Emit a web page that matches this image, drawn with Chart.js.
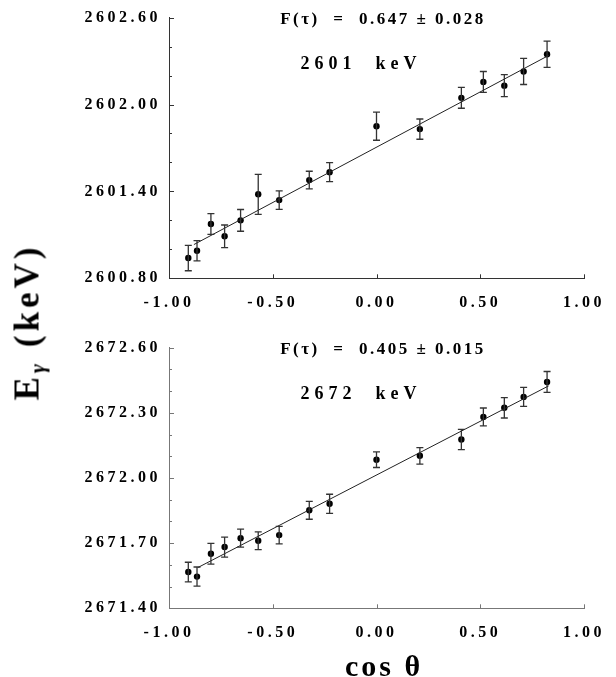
<!DOCTYPE html>
<html>
<head>
<meta charset="utf-8">
<script src="https://cdn.jsdelivr.net/npm/chart.js@4"></script>
<style>
body{margin:0;background:#fff;}
#wrap{position:relative;width:616px;height:677px;overflow:hidden;}
canvas{position:absolute;left:0;}
#c1{top:0;}
#c2{top:330px;}
.ylab{position:absolute;left:29px;top:322px;transform:translate(-50%,-50%) rotate(-90deg);font:bold 35px "Liberation Serif";letter-spacing:4px;white-space:nowrap;color:#000;}
.ylab i{font-size:22px;vertical-align:-6px;}
.xlab{position:absolute;left:384px;top:666px;transform:translate(-50%,-50%);font:bold 30px "Liberation Serif";letter-spacing:3px;white-space:nowrap;color:#000;}
</style>
</head>
<body>
<div id="wrap">
<canvas id="c1" width="616" height="330"></canvas>
<canvas id="c2" width="616" height="330"></canvas>
<div class="ylab">E<i>γ</i> (keV)</div>
<div class="xlab">cos θ</div>
</div>
<script>
// angle values (cos theta), same for both lines
let cosTheta = [-0.907,-0.865,-0.798,-0.732,-0.655,-0.570,-0.469,-0.324,-0.226,0.0,0.209,0.409,0.515,0.616,0.709,0.822];

// 2601 keV line
let energy2601 = [2600.94,2600.99,2601.175,2601.09,2601.20,2601.38,2601.34,2601.478,2601.533,2601.85,2601.83,2602.046,2602.156,2602.13,2602.228,2602.347];
let error2601 = [0.088,0.070,0.072,0.078,0.075,0.138,0.064,0.061,0.066,0.097,0.070,0.072,0.072,0.076,0.090,0.091];
let fitX2601 = [-0.88,0.83];
let fitY2601 = [2601.033,2602.339];

// 2672 keV line
let energy2672 = [2671.567,2671.546,2671.651,2671.682,2671.723,2671.711,2671.737,2671.851,2671.881,2672.084,2672.102,2672.177,2672.281,2672.323,2672.373,2672.442];
let error2672 = [0.045,0.044,0.048,0.046,0.041,0.041,0.040,0.041,0.044,0.036,0.038,0.047,0.041,0.047,0.044,0.048];
let fitX2672 = [-0.86,0.83];
let fitY2672 = [2671.588,2672.424];

let xTicks = [-1,-0.5,0,0.5,1];

const FONT = 'bold 17px "Liberation Serif"';

// error bars
const errorBars = {
id:'errorBars',
afterDatasetsDraw(chart){
let ctx=chart.ctx, xs=chart.scales.x, ys=chart.scales.y;
chart.data.datasets.forEach(ds=>{
if(!ds.errors) return;
ctx.save();
ctx.strokeStyle='#333';
ctx.lineWidth=1.3;
ds.data.forEach((p,i)=>{
let px=xs.getPixelForValue(p.x);
let t=ys.getPixelForValue(p.y+ds.errors[i]);
let b=ys.getPixelForValue(p.y-ds.errors[i]);
ctx.beginPath();
ctx.moveTo(px,t);ctx.lineTo(px,b);
ctx.moveTo(px-3.5,t);ctx.lineTo(px+3.5,t);
ctx.moveTo(px-3.5,b);ctx.lineTo(px+3.5,b);
ctx.stroke();
});
ctx.restore();
});
}
};

// inside tick marks + letter spacing + in-plot texts
const decor = {
id:'decor',
beforeDraw(chart){
chart.ctx.letterSpacing='3.5px';
},
afterDraw(chart,args,opts){
let ctx=chart.ctx, xs=chart.scales.x, ys=chart.scales.y, a=chart.chartArea;
ctx.save();
ctx.strokeStyle=opts.axisColor;
ctx.lineWidth=1;
ys.ticks.forEach((t,i)=>{
let py=Math.round(ys.getPixelForValue(t.value))+0.5;
let len = i%3==0 ? 5 : 3;
ctx.beginPath();ctx.moveTo(a.left,py);ctx.lineTo(a.left+len,py);ctx.stroke();
});
xs.ticks.forEach(t=>{
let px=Math.round(xs.getPixelForValue(t.value))+0.5;
ctx.beginPath();ctx.moveTo(px,a.bottom);ctx.lineTo(px,a.bottom-4);ctx.stroke();
});
ctx.fillStyle='#000';
ctx.font=FONT;
ctx.textAlign='center';
ctx.textBaseline='middle';
ctx.letterSpacing='2.5px';
ctx.fillText(opts.title,a.left+214,20);
ctx.font='bold 18px "Liberation Serif"';
ctx.letterSpacing='5px';
ctx.fillText(opts.label,a.left+192,64);
ctx.restore();
}
};

function makeChart(id,energy,errors,fitX,fitY,yMin,yMax,yStep,title,label,axisColor){
let points=cosTheta.map((c,i)=>({x:c,y:energy[i]}));
let fit=fitX.map((c,i)=>({x:c,y:fitY[i]}));
return new Chart(document.getElementById(id),{
type:'scatter',
data:{
datasets:[
{data:fit,type:'line',showLine:true,borderColor:'#222',borderWidth:1,pointRadius:0,fill:false},
{data:points,errors:errors,backgroundColor:'#000',borderColor:'#000',pointRadius:3.2,borderWidth:0}
]
},
options:{
responsive:false,
animation:false,
layout:{padding:{top:17.3,right:32,left:0,bottom:0}},
plugins:{
legend:{display:false},
tooltip:{enabled:false},
decor:{title:title,label:label,axisColor:axisColor}
},
scales:{
x:{
type:'linear',min:-1,max:1,
afterBuildTicks(s){s.ticks=xTicks.map(v=>({value:v}));},
afterFit(s){s.height=51.7;},
grid:{display:false,drawTicks:false},
border:{color:axisColor,width:1},
ticks:{autoSkip:false,maxRotation:0,padding:15,color:'#000',font:{family:'Liberation Serif',size:16,weight:'bold'},
callback:v=>Number(v).toFixed(2)}
},
y:{
min:yMin,max:yMax,
ticks:{stepSize:yStep,autoSkip:false,padding:8,color:'#000',font:{family:'Liberation Serif',size:16,weight:'bold'},
callback:(v,i)=>i%3==0?Number(v).toFixed(2):''},
afterFit(s){s.width=169;},
grid:{display:false,drawTicks:false},
border:{color:axisColor,width:1}
}
}
},
plugins:[errorBars,decor]
});
}

makeChart('c1',energy2601,error2601,fitX2601,fitY2601,2600.8,2602.6,0.2,'F(τ)  =  0.647 ± 0.028','2601  keV','#333');
makeChart('c2',energy2672,error2672,fitX2672,fitY2672,2671.4,2672.6,0.1,'F(τ)  =  0.405 ± 0.015','2672  keV','#777');
</script>
</body>
</html>
